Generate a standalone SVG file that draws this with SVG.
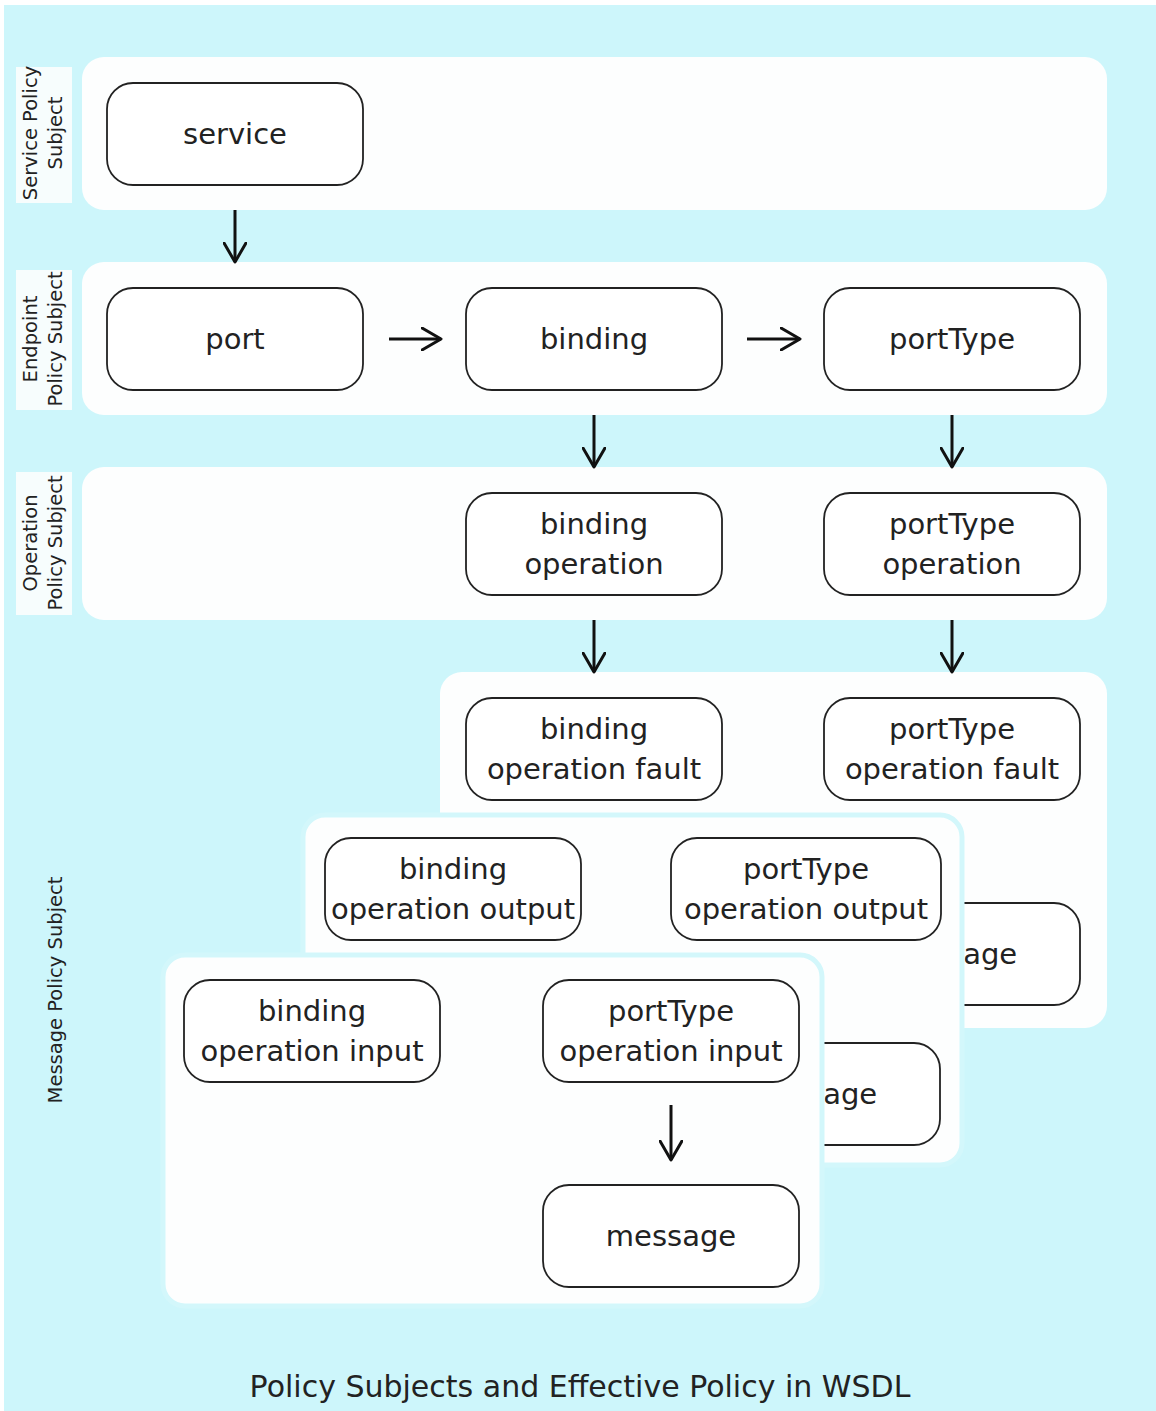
<svg xmlns="http://www.w3.org/2000/svg" width="1156" height="1411" viewBox="0 0 1156 1411">
<defs>
<style>
.bg{fill:#cdf6fb}
.panel{fill:#fdfefe}
.over{stroke:#d3f7fb;stroke-width:5}
.lbox{fill:#f7fdfd}
.node rect{fill:#ffffff;stroke:#222;stroke-width:1.8}
.node text{font-family:"DejaVu Sans","Liberation Sans",sans-serif;font-size:29px;fill:#222;text-anchor:middle}
.side{font-family:"DejaVu Sans","Liberation Sans",sans-serif;font-size:19.5px;fill:#222;text-anchor:middle}
.title{font-family:"DejaVu Sans","Liberation Sans",sans-serif;font-size:30px;fill:#222;text-anchor:middle}
.conn line{stroke:#111;stroke-width:3;marker-end:url(#arr)}
</style>
<marker id="arr" viewBox="0 0 22 24" refX="20" refY="12" markerWidth="22" markerHeight="24" markerUnits="userSpaceOnUse" orient="auto">
<path d="M1,1 L20,12 L1,23" fill="none" stroke="#111" stroke-width="3" stroke-linecap="round" stroke-linejoin="round"/>
</marker>
</defs>
<rect x="0" y="0" width="1156" height="1411" fill="#ffffff"/>
<rect class="bg" x="4" y="5" width="1152" height="1406"/>

<g id="side-labels">
<rect class="lbox" x="16" y="67" width="56" height="136"/>
<rect class="lbox" x="16" y="270" width="56" height="140"/>
<rect class="lbox" x="16" y="472" width="56" height="143"/>
<text class="side" transform="translate(37,133) rotate(-90)">Service Policy</text>
<text class="side" transform="translate(62,133) rotate(-90)">Subject</text>
<text class="side" transform="translate(37,339) rotate(-90)">Endpoint</text>
<text class="side" transform="translate(62,339) rotate(-90)">Policy Subject</text>
<text class="side" transform="translate(37,543) rotate(-90)">Operation</text>
<text class="side" transform="translate(62,543) rotate(-90)">Policy Subject</text>
<text class="side" transform="translate(62,990) rotate(-90)">Message Policy Subject</text>
</g>

<g id="panels-top">
<rect class="panel" x="82" y="57" width="1025" height="153" rx="22"/>
<rect class="panel" x="82" y="262" width="1025" height="153" rx="22"/>
<rect class="panel" x="82" y="467" width="1025" height="153" rx="22"/>
<rect class="panel" x="440" y="672" width="667" height="356" rx="22"/>
</g>

<g id="service" class="node"><rect x="107" y="83" width="256" height="102" rx="26"/><text x="235" y="144">service</text></g>
<g id="port" class="node"><rect x="107" y="288" width="256" height="102" rx="26"/><text x="235" y="349">port</text></g>
<g id="binding" class="node"><rect x="466" y="288" width="256" height="102" rx="26"/><text x="594" y="349">binding</text></g>
<g id="portType" class="node"><rect x="824" y="288" width="256" height="102" rx="26"/><text x="952" y="349">portType</text></g>
<g id="binding-operation" class="node"><rect x="466" y="493" width="256" height="102" rx="26"/><text x="594" y="534">binding</text><text x="594" y="574">operation</text></g>
<g id="portType-operation" class="node"><rect x="824" y="493" width="256" height="102" rx="26"/><text x="952" y="534">portType</text><text x="952" y="574">operation</text></g>
<g id="binding-operation-fault" class="node"><rect x="466" y="698" width="256" height="102" rx="26"/><text x="594" y="739">binding</text><text x="594" y="779">operation fault</text></g>
<g id="portType-operation-fault" class="node"><rect x="824" y="698" width="256" height="102" rx="26"/><text x="952" y="739">portType</text><text x="952" y="779">operation fault</text></g>
<g id="message-fault" class="node"><rect x="824" y="903" width="256" height="102" rx="26"/><text x="952" y="964">message</text></g>

<g id="panel-output"><rect class="panel over" x="303" y="815" width="659" height="350" rx="22"/></g>
<g id="binding-operation-output" class="node"><rect x="325" y="838" width="256" height="102" rx="26"/><text x="453" y="879">binding</text><text x="453" y="919">operation output</text></g>
<g id="portType-operation-output" class="node"><rect x="671" y="838" width="270" height="102" rx="26"/><text x="806" y="879">portType</text><text x="806" y="919">operation output</text></g>
<g id="message-output" class="node"><rect x="684" y="1043" width="256" height="102" rx="26"/><text x="812" y="1104">message</text></g>

<g id="panel-input"><rect class="panel over" x="163" y="955" width="659" height="351" rx="22"/></g>
<g id="binding-operation-input" class="node"><rect x="184" y="980" width="256" height="102" rx="26"/><text x="312" y="1021">binding</text><text x="312" y="1061">operation input</text></g>
<g id="portType-operation-input" class="node"><rect x="543" y="980" width="256" height="102" rx="26"/><text x="671" y="1021">portType</text><text x="671" y="1061">operation input</text></g>
<g id="message" class="node"><rect x="543" y="1185" width="256" height="102" rx="26"/><text x="671" y="1246">message</text></g>

<g id="connectors" class="conn">
<line x1="235" y1="210" x2="235" y2="262"/>
<line x1="389" y1="339" x2="441" y2="339"/>
<line x1="747" y1="339" x2="800" y2="339"/>
<line x1="594" y1="415" x2="594" y2="467"/>
<line x1="952" y1="415" x2="952" y2="467"/>
<line x1="594" y1="620" x2="594" y2="672"/>
<line x1="952" y1="620" x2="952" y2="672"/>
<line x1="671" y1="1105" x2="671" y2="1160"/>
</g>

<text class="title" x="580" y="1397">Policy Subjects and Effective Policy in WSDL</text>
</svg>
